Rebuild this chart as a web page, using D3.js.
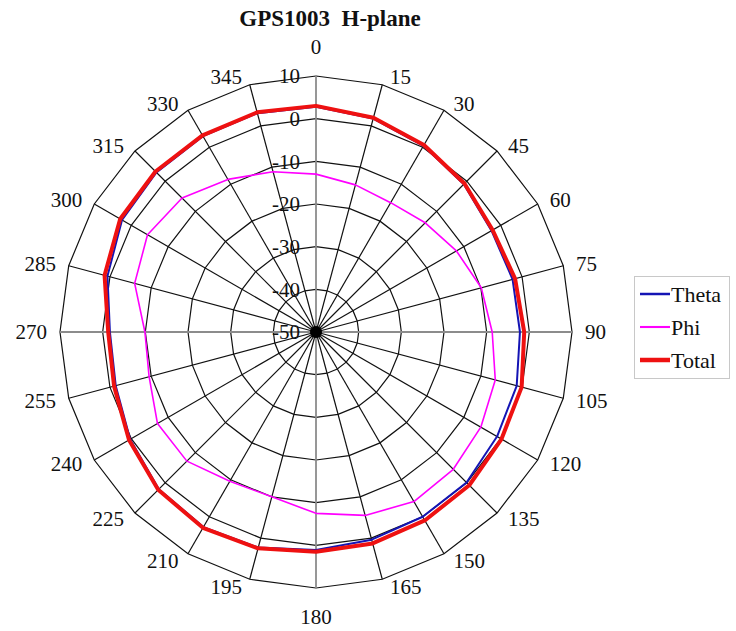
<!DOCTYPE html>
<html>
<head>
<meta charset="utf-8">
<script src="https://cdn.jsdelivr.net/npm/d3@7"></script>
<style>
  body { margin: 0; background: #fff; }
  text { font-family: "Liberation Serif", "Times New Roman", serif; fill: #111; }
</style>
</head>
<body>
<div id="chart"></div>
<script>
// ===================== DATA =====================
const angles = [0, 15, 30, 45, 60, 75, 90, 105, 120, 135, 150, 165,
                180, 195, 210, 225, 240, 255, 270, 285, 300, 315, 330, 345];
const theta = [2.8, 1.8, 0.4, -1.0, -2.5, -2.3, -2.2, -1.3, -1.0, -0.1, 0.0, 0.4,
               1.1, 2.3, 2.8, 2.1, 0.3, -1.4, -1.7, 0.6, 2.5, 2.9, 3.0, 3.1];
const phi = [-13.0, -14.3, -15.0, -13.8, -12.0, -9.9, -8.7, -6.5, -5.4, -4.5, -4.1, -5.5,
             -7.5, -10.0, -9.6, -7.2, -7.1, -9.5, -9.9, -6.0, -4.4, -5.6, -8.7, -11.1];
const total = [3.0, 2.0, 0.6, -0.8, -2.2, -1.7, -1.2, -0.1, 0.2, 0.8, 1.0, 1.3,
               1.5, 2.5, 3.0, 2.3, 0.6, -1.0, -1.3, 1.3, 3.0, 3.2, 3.2, 3.3];
const rTicks = [-50, -40, -30, -20, -10, 0, 10];
const seriesNames = ["Theta", "Phi", "Total"];
const seriesColors = ["#1414b4", "#ff00ff", "#ee1111"];
const seriesWidths = [2, 1.6, 4];

// ===================== CHART =====================
const width = 736, height = 631;
const cx = 316, cy = 332, R = 256;

const svg = d3.select("#chart").append("svg")
  .attr("width", width)
  .attr("height", height);

const r = d3.scaleLinear().domain([-50, 10]).range([0, R]);
const a = d3.scaleLinear().domain([0, 360]).range([0, 2 * Math.PI]);

const g = svg.append("g").attr("transform", `translate(${cx},${cy})`);

// rings (polygons)
const ringLine = d3.lineRadial()
  .angle(d => a(d))
  .curve(d3.curveLinearClosed);

g.selectAll("path.ring")
  .data(rTicks.slice(1))
  .enter()
  .append("path")
  .attr("class", "ring")
  .attr("d", v => ringLine.radius(() => r(v))(angles))
  .attr("fill", "none")
  .attr("stroke", "#111")
  .attr("stroke-width", 1.2);

// spokes
g.selectAll("line.spoke")
  .data(angles)
  .enter()
  .append("line")
  .attr("class", "spoke")
  .attr("x1", 0).attr("y1", 0)
  .attr("x2", d => r(10) * Math.sin(a(d)))
  .attr("y2", d => -r(10) * Math.cos(a(d)))
  .attr("stroke", d => d % 90 === 0 ? "#8c8c8c" : "#111")
  .attr("stroke-width", d => d % 90 === 0 ? 1.8 : 1.2);

// dark hub where the spokes meet
g.append("circle").attr("r", 6).attr("fill", "#000");

// angle labels
g.selectAll("text.ang")
  .data(angles)
  .enter()
  .append("text")
  .attr("class", "ang")
  .attr("font-size", 21)
  .each(function(d) {
    const s = Math.sin(a(d)), c = Math.cos(a(d));
    const vx = r(10) * s, vy = -r(10) * c;
    const t = d3.select(this);
    if (Math.abs(s) < 0.01) {
      t.attr("x", 0).attr("y", c > 0 ? vy - 29 : vy + 29).attr("text-anchor", "middle");
    } else {
      t.attr("x", vx + Math.sign(s) * (6 + 7 * Math.abs(s)))
       .attr("y", vy - c * 8)
       .attr("text-anchor", s > 0 ? "start" : "end");
    }
    t.attr("dy", "0.35em").text(d);
  });

// radial labels
g.selectAll("text.rad")
  .data(rTicks)
  .enter()
  .append("text")
  .attr("class", "rad")
  .attr("font-size", 21)
  .attr("x", -16)
  .attr("y", d => -r(d))
  .attr("dy", "0.35em")
  .attr("text-anchor", "end")
  .text(d => d);

// series
const seriesData = [theta, phi, total];
const line = d3.lineRadial()
  .angle((d, i) => a(angles[i]))
  .radius(d => r(d))
  .curve(d3.curveLinearClosed);

g.selectAll("path.series")
  .data(seriesData)
  .enter()
  .append("path")
  .attr("class", "series")
  .attr("d", d => line(d))
  .attr("fill", "none")
  .attr("stroke", (d, i) => seriesColors[i])
  .attr("stroke-width", (d, i) => seriesWidths[i])
  .attr("stroke-linejoin", "round");

// title
svg.append("text")
  .attr("x", 330)
  .attr("y", 26)
  .attr("text-anchor", "middle")
  .attr("font-size", 23)
  .attr("font-weight", "bold")
  .style("white-space", "pre")
  .text("GPS1003  H-plane");

// legend
const legend = svg.append("g");
legend.append("rect")
  .attr("x", 634.5).attr("y", 276.5)
  .attr("width", 95).attr("height", 102)
  .attr("fill", "#fff")
  .attr("stroke", "#c8c8c8");

const legY = d3.scalePoint().domain(seriesNames).range([294, 360]);
seriesNames.forEach((name, i) => {
  legend.append("line")
    .attr("x1", 640).attr("x2", 670)
    .attr("y1", legY(name)).attr("y2", legY(name))
    .attr("stroke", seriesColors[i])
    .attr("stroke-width", seriesWidths[i] + 0.5);
  legend.append("text")
    .attr("x", 671)
    .attr("y", legY(name))
    .attr("dy", "0.35em")
    .attr("font-size", 22)
    .text(name);
});
</script>
</body>
</html>
